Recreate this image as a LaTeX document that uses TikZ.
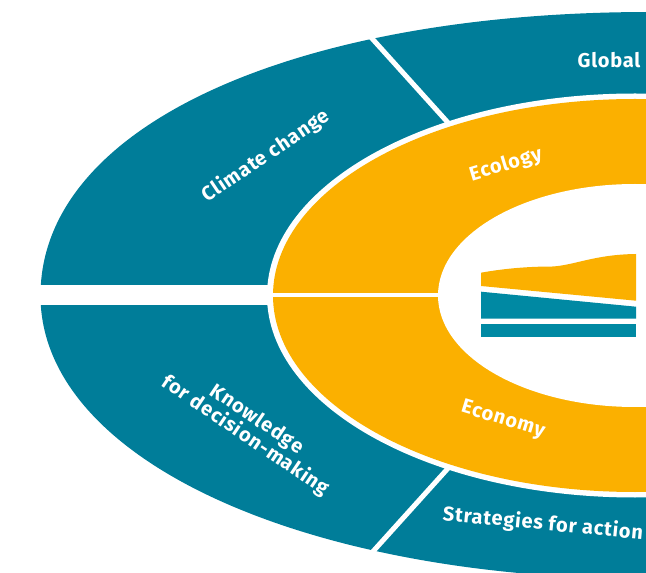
\documentclass[tikz,border=0pt]{standalone}
\usepackage{fontspec}
\setmainfont[LetterSpace=4]{Fira Sans}
\definecolor{ringteal}{HTML}{007D99}
\definecolor{ringgold}{HTML}{FBB000}
\definecolor{iconteal}{HTML}{0089A3}
\tikzset{
    ringlabel/.style={text=white, font=\fontsize{15}{17}\selectfont\bfseries, align=center},
    gap/.style={white, line width=3.75pt}
}
\begin{document}
\begin{tikzpicture}[x=0.75pt, y=-0.75pt]
    \useasboundingbox (0,0) rectangle (646,573);
    \clip (0,0) rectangle (646,573);
    \coordinate (c) at (635,295.5);
    % outer ring
    \fill[ringteal] (40.5,295.5) .. controls (40.5,124) and (298,12) .. (650,12)
        -- (650,579) .. controls (305,579) and (40.5,460) .. (40.5,295.5) -- cycle;
    \coordinate (gapTopOut) at (368,34);
    \coordinate (gapTopIn) at (460,136);
    \coordinate (gapBotOut) at (368,557);
    \coordinate (gapBotIn) at (460,455);
    \draw[gap] (gapTopOut) -- (gapTopIn);
    \draw[gap] (gapBotOut) -- (gapBotIn);
    \fill[white] (30,285.5) rectangle (300,305);
    % middle ring
    \fill[white] (c) ellipse [x radius=368, y radius=202];
    \fill[ringgold] (c) ellipse [x radius=362, y radius=196.5];
    \fill[white] (260,293) rectangle (450,297);
    \fill[white] (c) ellipse [x radius=197, y radius=111.5];
    % small picture in the middle
    \fill[ringgold] (481,272.7) .. controls (510,267.5) and (535,266.5) .. (553,266.5)
        .. controls (575,265) and (595,254.5) .. (636,254) -- (636,300.7) -- (481,286) -- cycle;
    \fill[iconteal] (481,291.7) -- (636,306.7) -- (636,318.7) -- (481,318.7) -- cycle;
    \fill[iconteal] (481,324) rectangle (636,336.7);
    % labels
    \node[ringlabel] (global) at (609,60) {Global};
    \node[ringlabel, rotate=34] (climate) at (266,156) {Climate change};
    \node[ringlabel, rotate=17] (ecology) at (506,165) {Ecology};
    \node[ringlabel, rotate=-17] (economy) at (503,420) {Economy};
    \node[ringlabel, rotate=-34] (knowledge) at (251,428) {Knowledge\\[-2pt]for decision-making};
    \node[ringlabel, rotate=-5.5] (strategies) at (543,524) {Strategies for action};
\end{tikzpicture}
\end{document}
